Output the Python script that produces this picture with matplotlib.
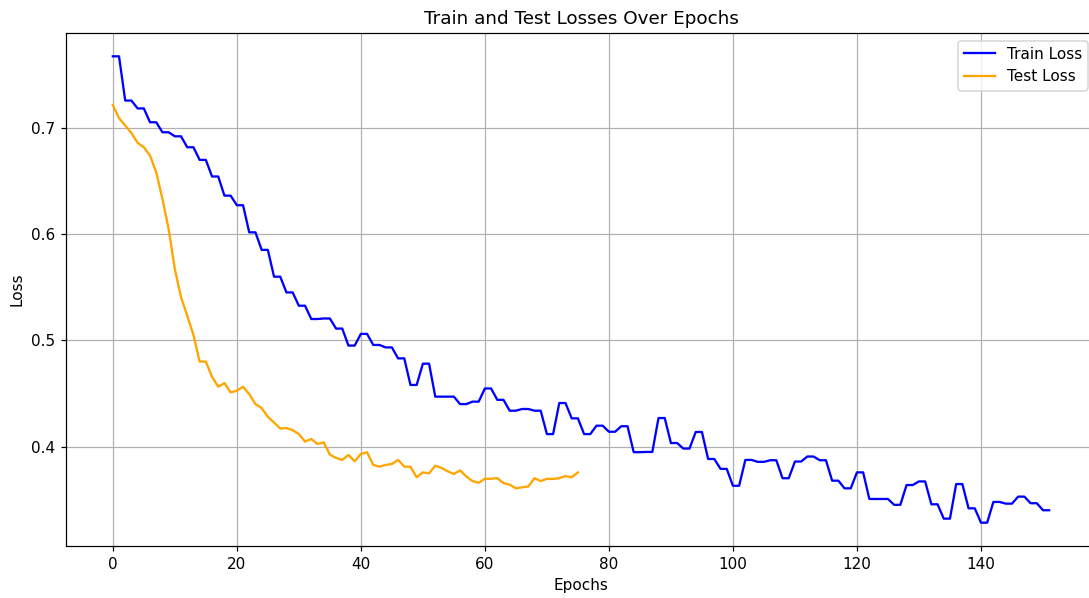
import matplotlib
matplotlib.use("Agg")
import matplotlib.pyplot as plt

train_loss = [
    0.767, 0.767, 0.7254, 0.7254, 0.718, 0.718, 0.705, 0.705, 0.6956, 0.6956,
    0.6918, 0.6918, 0.6815, 0.6815, 0.6696, 0.6696, 0.654, 0.654, 0.636, 0.636,
    0.627, 0.627, 0.6015, 0.6015, 0.585, 0.585, 0.5598, 0.5598, 0.545, 0.545,
    0.5325, 0.5325, 0.520, 0.520, 0.5205, 0.5205, 0.511, 0.511, 0.495, 0.495,
    0.506, 0.506, 0.4956, 0.4956, 0.4933, 0.4933, 0.483, 0.483, 0.458, 0.458,
    0.478, 0.478, 0.447, 0.447, 0.447, 0.447, 0.440, 0.440, 0.4423, 0.4423,
    0.4547, 0.4547, 0.444, 0.444, 0.4338, 0.4338, 0.4354, 0.4354, 0.4338, 0.4338,
    0.4118, 0.4118, 0.441, 0.441, 0.4266, 0.4266, 0.4118, 0.4118, 0.4197, 0.4197,
    0.414, 0.414, 0.4192, 0.4192, 0.3948, 0.3948, 0.3950, 0.3950, 0.4269, 0.4269,
    0.4034, 0.4034, 0.3982, 0.3982, 0.4138, 0.4138, 0.3884, 0.3884, 0.3791, 0.3791,
    0.3632, 0.3632, 0.3875, 0.3875, 0.3857, 0.3857, 0.3872, 0.3872, 0.3703, 0.3703,
    0.386, 0.386, 0.3907, 0.3907, 0.3872, 0.3872, 0.368, 0.368, 0.3608, 0.3608,
    0.3758, 0.3758, 0.3508, 0.3508, 0.3508, 0.3508, 0.3453, 0.3453, 0.3639, 0.3639,
    0.3673, 0.3673, 0.3458, 0.3458, 0.3323, 0.3323, 0.3648, 0.3648, 0.342, 0.342,
    0.3285, 0.3285, 0.348, 0.348, 0.3464, 0.3464, 0.353, 0.353, 0.3468, 0.3468,
    0.3402, 0.3402,
]

test_loss = [
    0.7213, 0.7088, 0.7019, 0.695, 0.6856, 0.6815, 0.6737, 0.658, 0.633, 0.6047,
    0.567, 0.5404, 0.5231, 0.505, 0.480, 0.480, 0.4657, 0.4563, 0.4598, 0.451,
    0.4526, 0.4563, 0.4494, 0.440, 0.4363, 0.428, 0.4227, 0.417, 0.4174, 0.4155,
    0.4118, 0.4047, 0.4072, 0.4025, 0.404, 0.3925, 0.3894, 0.3875, 0.3922, 0.3862,
    0.3931, 0.3947, 0.3828, 0.3812, 0.3828, 0.3837, 0.3875, 0.3812, 0.381, 0.3712,
    0.3758, 0.3749, 0.3821, 0.380, 0.3768, 0.3743, 0.3777, 0.372, 0.3676, 0.366,
    0.3698, 0.3698, 0.3704, 0.3657, 0.3643, 0.3608, 0.3618, 0.3625, 0.3704, 0.3676,
    0.3698, 0.3696, 0.3704, 0.3723, 0.3712, 0.3758,
]

title = "Train and Test Losses Over Epochs"
xlabel = "Epochs"
ylabel = "Loss"

DPI = 110
fig = plt.figure(figsize=(1089 / DPI, 598 / DPI), dpi=DPI)
ax = fig.add_axes([66 / 1089, 52 / 598, 1030 / 1089, 513 / 598])
ax.plot(range(len(train_loss)), train_loss, color="blue", label="Train Loss")
ax.plot(range(len(test_loss)), test_loss, color="orange", label="Test Loss")
ax.set_title(title)
ax.set_xlabel(xlabel)
ax.set_ylabel(ylabel)
ax.legend(loc="upper right")
ax.grid(True)
fig.savefig("out.png", dpi=DPI)
